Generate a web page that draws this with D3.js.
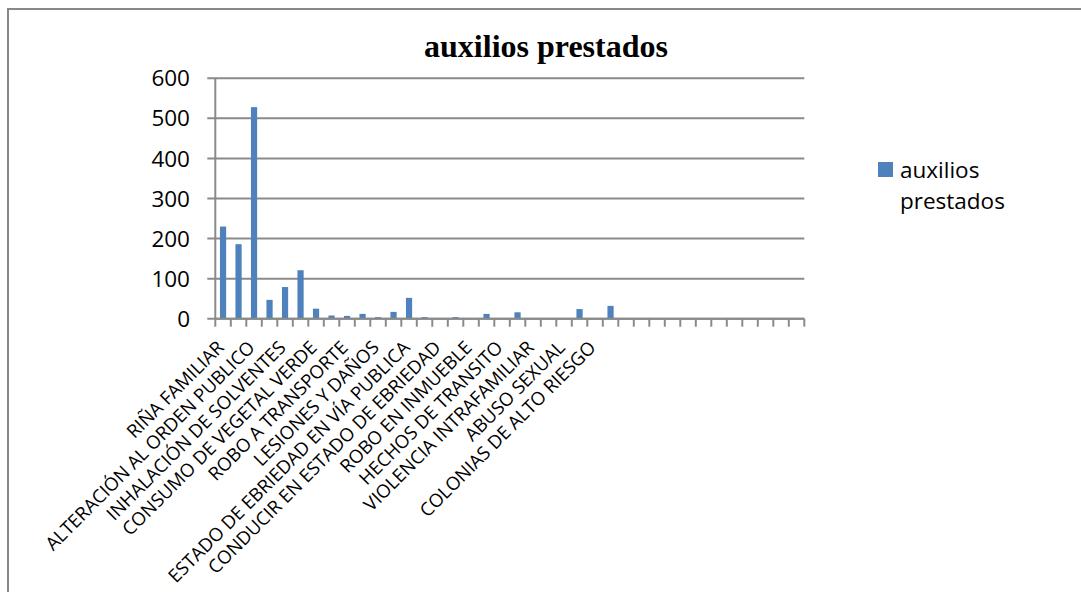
<!DOCTYPE html>
<html>
<head>
<meta charset="utf-8">
<script src="https://cdn.jsdelivr.net/npm/d3@7/dist/d3.min.js"></script>
<style>
  html, body { margin: 0; padding: 0; background: #fff; }
  svg { display: block; }
</style>
</head>
<body>
<svg id="chart" width="1081" height="592"></svg>
<script>
// ---- data ----
const categories = [
  "RIÑA FAMILIAR", "", "ALTERACIÓN AL ORDEN PUBLICO", "", "INHALACIÓN DE SOLVENTES", "",
  "CONSUMO DE VEGETAL VERDE", "", "ROBO A TRANSPORTE", "", "LESIONES Y DAÑOS", "",
  "ESTADO DE EBRIEDAD EN VÍA PUBLICA", "", "CONDUCIR EN ESTADO DE EBRIEDAD", "",
  "ROBO EN INMUEBLE", "", "HECHOS DE TRANSITO", "", "VIOLENCIA INTRAFAMILIAR", "",
  "ABUSO SEXUAL", "", "COLONIAS DE ALTO RIESGO", "",
  "", "", "", "", "", "", "", "", "", "", "", ""
];
const values = [
  230, 186, 528, 47, 79, 121, 25, 8, 7, 12, 4, 17,
  52, 4, 0, 4, 0, 12, 0, 16, 0, 0, 0, 24,
  0, 32, 0, 0, 0, 0, 0, 0, 0, 0, 0, 0, 0, 0
];
const yTicks = [0, 100, 200, 300, 400, 500, 600];
const seriesName = "auxilios prestados";
const legendLines = ["auxilios", "prestados"];

// ---- layout ----
const svg = d3.select("#chart");
const plot = { left: 215.3, right: 804.3, top: 78.3, bottom: 318.7 };
const gridColor = "#8a8a8a";
const barColor = "#4F81BD";

// chart border (only left & top visible)
svg.append("rect")
  .attr("x", 8).attr("y", 9).attr("width", 1200).attr("height", 700)
  .attr("fill", "none").attr("stroke", "#888").attr("stroke-width", 2);

const xb = d3.scaleBand()
  .domain(d3.range(categories.length))
  .range([plot.left, plot.right]);

const y = d3.scaleLinear().domain([0, 600]).range([plot.bottom, plot.top]);

// gridlines
svg.append("g").selectAll("line").data(yTicks).join("line")
  .attr("x1", plot.left - 8).attr("x2", plot.right)
  .attr("y1", d => y(d)).attr("y2", d => y(d))
  .attr("stroke", gridColor).attr("stroke-width", 2);

// y labels
svg.append("g").selectAll("text").data(yTicks).join("text")
  .attr("x", 190).attr("y", d => y(d))
  .attr("dy", "0.36em")
  .attr("text-anchor", "end")
  .attr("font-family", "Open Sans, sans-serif")
  .attr("font-size", 22.5)
  .attr("fill", "#000")
  .text(d => d);

// bars
const bw = xb.bandwidth() / 2.5;
svg.append("g").selectAll("rect").data(values).join("rect")
  .attr("x", (d, i) => xb(i) + xb.bandwidth() / 2 - bw / 2)
  .attr("width", bw)
  .attr("y", d => y(d))
  .attr("height", d => y(0) - y(d))
  .attr("fill", barColor);

// y axis line
svg.append("line")
  .attr("x1", plot.left).attr("x2", plot.left)
  .attr("y1", plot.top).attr("y2", plot.bottom)
  .attr("stroke", gridColor).attr("stroke-width", 2);

// x axis line + ticks at category boundaries
svg.append("line")
  .attr("x1", plot.left).attr("x2", plot.right)
  .attr("y1", plot.bottom).attr("y2", plot.bottom)
  .attr("stroke", gridColor).attr("stroke-width", 2);
const bounds = d3.range(categories.length + 1).map(i => i < categories.length ? xb(i) : plot.right);
svg.append("g").selectAll("line").data(bounds).join("line")
  .attr("x1", d => d).attr("x2", d => d)
  .attr("y1", plot.bottom).attr("y2", plot.bottom + 8)
  .attr("stroke", gridColor).attr("stroke-width", 2);

// x labels, rotated -45
svg.append("g").selectAll("text").data(categories).join("text")
  .attr("transform", (d, i) => {
    const cx = xb(i) + xb.bandwidth() / 2;
    return `translate(${cx + 2},${plot.bottom + 30}) rotate(-45)`;
  })
  .attr("text-anchor", "end")
  .attr("font-family", "Open Sans, sans-serif")
  .attr("font-size", 18.5)
  .attr("fill", "#000")
  .text(d => d);

// title
svg.append("text")
  .attr("x", 546).attr("y", 57)
  .attr("text-anchor", "middle")
  .attr("font-family", "Liberation Serif, Times New Roman, serif")
  .attr("font-weight", "bold")
  .attr("font-size", 32)
  .attr("fill", "#000")
  .text(seriesName);

// legend
svg.append("rect")
  .attr("x", 878).attr("y", 162).attr("width", 15).attr("height", 15)
  .attr("fill", barColor);
svg.append("g").selectAll("text").data(legendLines).join("text")
  .attr("x", 900).attr("y", (d, i) => 177.5 + i * 31)
  .attr("font-family", "Open Sans, sans-serif")
  .attr("font-size", 22.5)
  .attr("fill", "#000")
  .text(d => d);
</script>
</body>
</html>
